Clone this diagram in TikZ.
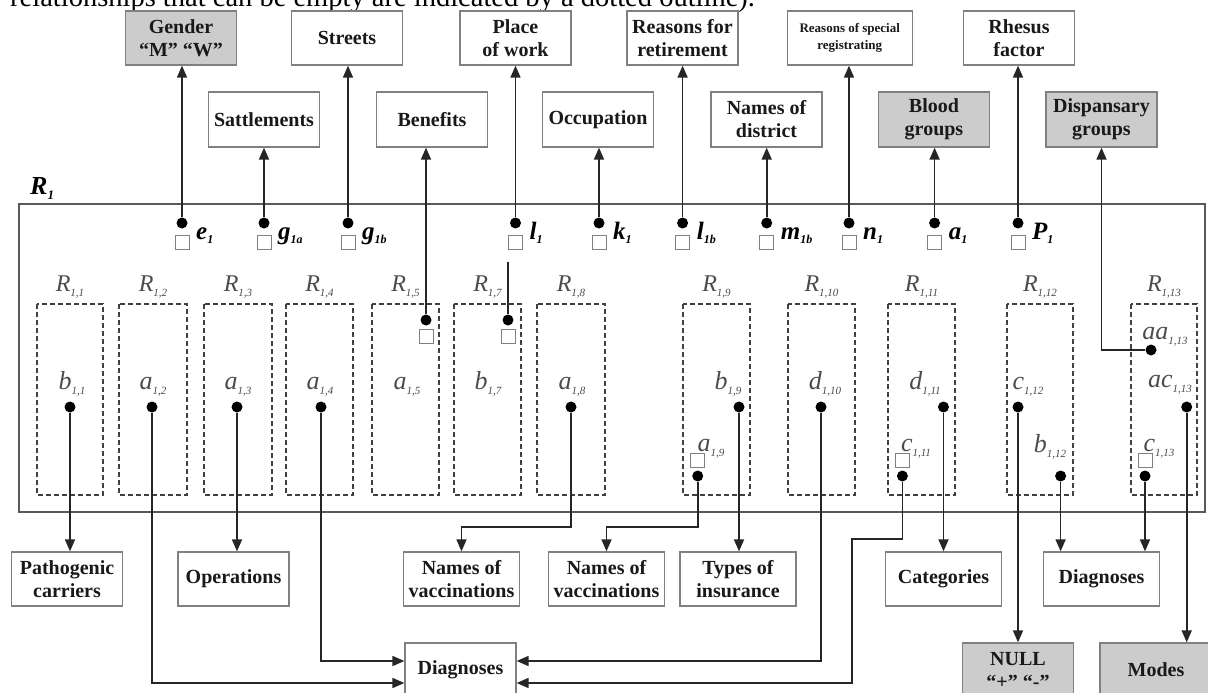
\documentclass[tikz,border=0pt]{standalone}
\usepackage{fontspec}
\setmainfont{Liberation Serif}
\usetikzlibrary{arrows.meta,calc}
\newcommand{\myfs}[1]{\fontsize{#1}{#1}\selectfont}
\newcommand{\toplab}[2]{{\myfs{25}\bfseries\itshape #1}\raisebox{-4pt}{\myfs{12}\bfseries\itshape #2}}
\newcommand{\rlab}[2]{{\myfs{24}\itshape #1}\raisebox{-5pt}{\myfs{11}\itshape #2}}
\newcommand{\ilab}[2]{{\myfs{26}\itshape #1}\raisebox{-5pt}{\myfs{11}\itshape #2}}
\definecolor{boxline}{gray}{0.5}
\definecolor{gfill}{gray}{0.8}
\definecolor{lblgray}{gray}{0.3}
\begin{document}
\begin{tikzpicture}[x=1pt,y=-1pt,
  box/.style={draw=boxline, line width=1.3pt, fill=white, minimum width=111pt, minimum height=54pt, inner sep=2pt, align=center, text=black!90, font=\fontsize{20}{23}\selectfont\bfseries},
  gbox/.style={box, fill=gfill},
  dot/.style={circle, fill=black, inner sep=0pt, minimum size=11pt},
  sq/.style={draw=boxline, line width=1pt, fill=white, inner sep=0pt, minimum size=14pt},
  dbox/.style={draw=black!75, dash pattern=on 5pt off 3pt, line width=1.5pt},
  bigr/.style={draw=black!65, line width=2pt},
  arr/.style={line width=1.7pt, draw=black!85, -{Triangle[length=12pt,width=10pt]}},
  ln/.style={line width=1.7pt, draw=black!85},
  rl/.style={inner sep=0pt, text=lblgray, anchor=base},
  tl/.style={inner sep=0pt, anchor=base west}]
\useasboundingbox (0,0) rectangle (1208,693);
\clip (0,0) rectangle (1208,693);
\fill[white] (0,0) rectangle (1208,693);
\node[anchor=base west, inner sep=0pt, font=\myfs{28.5}] (cap) at (10,7) {relationships that can be empty are indicated by a dotted outline).};

% top boxes
\node[gbox] (gender) at (181,38) {Gender\\“M” “W”};
\node[box] (streets) at (347,38) {Streets};
\node[box] (place) at (515.5,38) {Place\\of work};
\node[box] (retire) at (682.5,38) {Reasons for\\retirement};
\node[box, minimum width=125pt, font=\fontsize{13}{17}\selectfont\bfseries] (special) at (849.75,38) {Reasons of special\\registrating};
\node[box] (rhesus) at (1019,38) {Rhesus\\factor};
\node[box, minimum height=55pt] (sattl) at (264,119.5) {Sattlements};
\node[box, minimum height=55pt] (benef) at (432,119.5) {Benefits};
\node[box, minimum height=55pt] (occup) at (598,119.5) {Occupation};
\node[box, minimum height=55pt] (distr) at (766.5,119.5) {Names of\\district};
\node[gbox, minimum height=55pt] (blood) at (934,119.5) {Blood\\groups};
\node[gbox, minimum height=55pt] (disp) at (1101.5,119.5) {Dispansary\\groups};

% R1 container
\node[tl, font=\myfs{26}\bfseries\itshape] (r1) at (30,194) {R\raisebox{-5pt}{\myfs{13}1}};
\draw[bigr] (19,204) rectangle (1205,512);

% top attributes
\foreach \i/\x/\m/\s/\t in {1/182/e/1/gender, 2/264/g/1a/sattl, 3/348/g/1b/streets, 4/515.5/l/1/place, 5/599/k/1/occup, 6/682.6/l/1b/retire, 7/766.7/m/1b/distr, 8/849/n/1/special, 9/934.6/a/1/blood, 10/1018/P/1/rhesus}{
  \node[sq] (ts\i) at (\x,242) {};
  \node[dot] (t\i) at (\x,223) {};
  \node[tl] (tl\i) at (\x+14,239) {\toplab{\m}{\s}};
  \draw[arr] (t\i) -- (t\i |- \t.south);
}

% dashed sub-relations
\foreach \l/\r/\s in {37/103/{1,1}, 119/187/{1,2}, 204/272/{1,3}, 286/353/{1,4}, 372/439/{1,5}, 454/521/{1,7}, 537/605/{1,8}, 683/750/{1,9}, 788/855/{1,10}, 888/955/{1,11}, 1007/1073/{1,12}, 1131/1197/{1,13}}{
  \draw[dbox] (\l,304) rectangle (\r,495);
  \node[rl] at ({(\l+\r)/2},291) {\rlab{R}{\s}};
}

% inner labels
\node[rl] (l11) at (72,389) {\ilab{b}{1,1}};
\node[rl] (l12) at (153,389) {\ilab{a}{1,2}};
\node[rl] (l13) at (238,389) {\ilab{a}{1,3}};
\node[rl] (l14) at (320,389) {\ilab{a}{1,4}};
\node[rl] (l15) at (407,389) {\ilab{a}{1,5}};
\node[rl] (l17) at (488,389) {\ilab{b}{1,7}};
\node[rl] (l18) at (572,389) {\ilab{a}{1,8}};
\node[rl] (l19b) at (728,389) {\ilab{b}{1,9}};
\node[rl] (l110) at (825,389) {\ilab{d}{1,10}};
\node[rl] (l111d) at (925,389) {\ilab{d}{1,11}};
\node[rl] (l112c) at (1028,389) {\ilab{c}{1,12}};
\node[rl] (l113aa) at (1165,339) {\ilab{aa}{1,13}};
\node[rl] (l113ac) at (1170,387) {\ilab{ac}{1,13}};
\node[rl] (l19a) at (711,451) {\ilab{a}{1,9}};
\node[rl] (l111c) at (916,451) {\ilab{c}{1,11}};
\node[rl] (l112b) at (1050,452) {\ilab{b}{1,12}};
\node[rl] (l113c) at (1159,451) {\ilab{c}{1,13}};

% bottom boxes
\node[box] (patho) at (67,579) {Pathogenic\\carriers};
\node[box] (oper) at (233.5,579) {Operations};
\node[box, minimum width=116pt] (nv1) at (461.5,579) {Names of\\vaccinations};
\node[box, minimum width=116pt] (nv2) at (606.5,579) {Names of\\vaccinations};
\node[box, minimum width=116pt] (ins) at (738,579) {Types of\\insurance};
\node[box, minimum width=116pt] (cat) at (943.5,579) {Categories};
\node[box, minimum width=116pt] (diagR) at (1101.5,579) {Diagnoses};
\node[box] (diagB) at (460.5,670) {Diagnoses};
\node[gbox] (null) at (1018,670) {NULL\\“+” “-”};
\node[gbox, minimum width=112pt] (modes) at (1156,670) {Modes};

% inner squares and dots
\node[sq] (s15) at (426.5,336) {};
\node[sq] (s17) at (508,336) {};
\node[sq] (s19) at (697.7,460) {};
\node[sq] (s111) at (902.4,460) {};
\node[sq] (s113) at (1145,460) {};
\node[dot] (d11) at (70,407) {};
\node[dot] (d12) at (152,407) {};
\node[dot] (d13) at (237,407) {};
\node[dot] (d14) at (321,407) {};
\node[dot] (d15) at (426,320) {};
\node[dot] (d17) at (508,320) {};
\node[dot] (d18) at (571,407) {};
\node[dot] (d19b) at (739,407) {};
\node[dot] (d19a) at (697.7,476) {};
\node[dot] (d110) at (821,407) {};
\node[dot] (d111d) at (943.5,407) {};
\node[dot] (d111c) at (902.4,476) {};
\node[dot] (d112c) at (1018,407) {};
\node[dot] (d112b) at (1060.6,476) {};
\node[dot] (d113aa) at (1151,350) {};
\node[dot] (d113ac) at (1186.7,407) {};
\node[dot] (d113c) at (1145,476) {};

% connectors
\coordinate (l17top) at (508,262);
\coordinate (k18) at (571,527);
\coordinate (k111) at (852,539);
\draw[arr] (d11) -- (d11 |- patho.north);
\draw[arr] (d13) -- (d13 |- oper.north);
\draw[arr] (d12) |- ([yshift=-13pt]diagB.west);
\draw[arr] (d14) |- ([yshift=9pt]diagB.west);
\draw[arr] (d15) -- (d15 |- benef.south);
\draw[ln] (l17top) -- (d17);
\draw[arr] (d18) |- (nv1.north |- k18) -- (nv1.north);
\draw[arr] (d19a) |- (nv2.north |- k18) -- (nv2.north);
\draw[arr] (d19b) -- (d19b |- ins.north);
\draw[arr] (d110) |- ([yshift=9pt]diagB.east);
\draw[arr] (d111c) |- (k111) |- ([yshift=-13pt]diagB.east);
\draw[arr] (d111d) -- (d111d |- cat.north);
\draw[arr] (d112c) -- (d112c |- null.north);
\draw[arr] (d112b) -- (d112b |- diagR.north);
\draw[arr] (d113c) -- (d113c |- diagR.north);
\draw[arr] (d113ac) -- (d113ac |- modes.north);
\draw[arr] (d113aa) -| (disp.south);
\end{tikzpicture}
\end{document}
